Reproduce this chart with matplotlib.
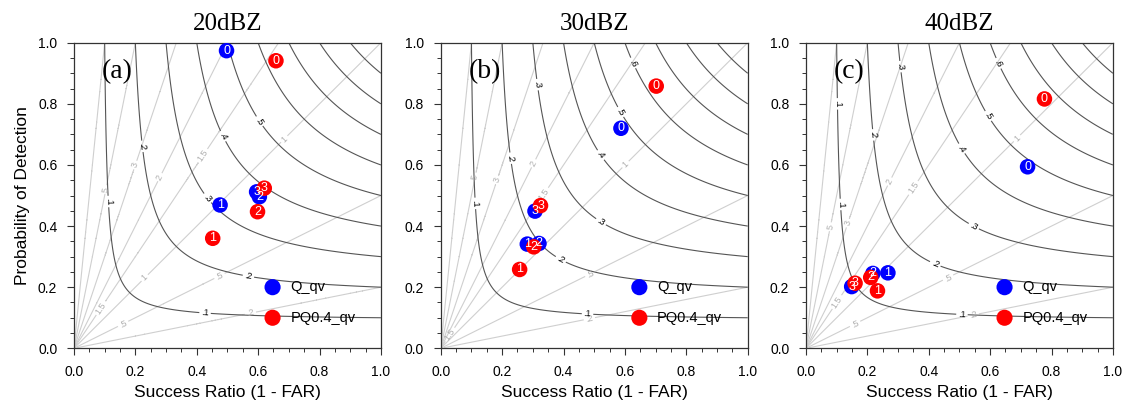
import numpy as np
import matplotlib.pyplot as plt
from matplotlib.ticker import MultipleLocator

SANS = ["Liberation Sans", "DejaVu Sans"]
SERIF = ["Liberation Serif", "DejaVu Serif"]

titles = ["20dBZ", "30dBZ", "40dBZ"]
tags = ["(a)", "(b)", "(c)"]
names = ["Q_qv", "PQ0.4_qv"]
colors = ["#0000ff", "#ff0000"]
ids = ["0", "1", "2", "3"]

# success ratio and POD per panel, point index = label
q_sr = [[0.497, 0.476, 0.604, 0.595], [0.587, 0.282, 0.320, 0.307], [0.722, 0.267, 0.218, 0.149]]
q_pod = [[0.974, 0.469, 0.496, 0.512], [0.720, 0.341, 0.343, 0.449], [0.594, 0.247, 0.245, 0.202]]
pq_sr = [[0.658, 0.452, 0.598, 0.620], [0.702, 0.257, 0.303, 0.325], [0.777, 0.233, 0.211, 0.160]]
pq_pod = [[0.941, 0.360, 0.447, 0.524], [0.858, 0.258, 0.332, 0.467], [0.816, 0.188, 0.232, 0.213]]

csi_levels = [0.1, 0.2, 0.3, 0.4, 0.5, 0.6, 0.7, 0.8, 0.9]
bias_levels = [0.2, 0.5, 1, 1.5, 2, 3, 5, 10]

# where the contour labels sit (layout only)
csi_label_pos = [
    [(0.106, 0.48), (0.427, 0.115), (0.215, 0.66), (0.568, 0.234), (0.427, 0.485),
     (0.481, 0.692), (0.60, 0.74)],
    [(0.107, 0.474), (0.478, 0.109), (0.227, 0.622), (0.39, 0.289), (0.309, 0.862),
     (0.522, 0.414), (0.522, 0.633), (0.587, 0.774), (0.625, 0.933)],
    [(0.10, 0.80), (0.10, 0.47), (0.508, 0.106), (0.214, 0.698), (0.42, 0.273),
     (0.301, 0.921), (0.546, 0.398), (0.508, 0.654), (0.59, 0.758), (0.628, 0.933)],
]
bias_label_pos = [
    [(0.101, 0.52), (0.199, 0.60), (0.28, 0.56), (0.42, 0.63), (0.68, 0.69),
     (0.475, 0.235), (0.574, 0.118), (0.09, 0.13), (0.231, 0.23), (0.16, 0.08)],
    [(0.112, 0.56), (0.183, 0.55), (0.303, 0.605), (0.604, 0.6), (0.489, 0.24),
     (0.483, 0.103), (0.03, 0.045), (0.34, 0.50)],
    [(0.078, 0.398), (0.138, 0.409), (0.274, 0.545), (0.35, 0.525), (0.688, 0.687),
     (0.464, 0.229), (0.546, 0.103), (0.10, 0.152), (0.16, 0.08)],
]

plt.rcParams['font.family'] = SANS

def fmt(v):
    s = f"{v:g}"
    return s[1:] if s.startswith("0.") else s

sr = np.linspace(0.002, 1, 500)
pod = np.linspace(0.002, 1, 500)
SR, POD = np.meshgrid(sr, pod)
CSI = 1.0 / (1.0 / SR + 1.0 / POD - 1.0)
BIAS = POD / SR

fig = plt.figure(figsize=(11.31, 4.08), dpi=100)
lefts = [0.0654, 0.3897, 0.7126]

for i in range(3):
    ax = fig.add_axes([lefts[i], 0.1463, 0.2714, 0.749])
    ax.set_xlim(0, 1)
    ax.set_ylim(0, 1)

    cb = ax.contour(SR, POD, BIAS, levels=bias_levels, colors="#cfcfcf", linewidths=0.8)
    ax.clabel(cb, fmt=fmt, fontsize=6.5, colors="#b0b0b0", inline=True, inline_spacing=2,
              manual=bias_label_pos[i])
    cc = ax.contour(SR, POD, CSI, levels=csi_levels, colors="#555555", linewidths=0.8)
    ax.clabel(cc, fmt=fmt, fontsize=6.5, colors="black", inline=True, inline_spacing=2,
              manual=csi_label_pos[i])

    for sx, sy, c in [(q_sr[i], q_pod[i], colors[0]), (pq_sr[i], pq_pod[i], colors[1])]:
        for k in range(len(ids)):
            ax.scatter(sx[k], sy[k], s=125, color=c, edgecolors="none", zorder=5)
            ax.text(sx[k], sy[k], ids[k], color="white", fontsize=9,
                    ha="center", va="center", zorder=6)

    # legend drawn inside the plot
    for j in range(2):
        ax.scatter(0.647, 0.2 - 0.1 * j, s=135, color=colors[j], edgecolors="none", zorder=5)
        ax.text(0.705, 0.2 - 0.1 * j, names[j], fontsize=10.5, ha="left", va="center", zorder=6)

    ax.text(0.09, 0.906, tags[i], family=SERIF, fontsize=20, ha="left", va="center", zorder=7)
    ax.set_title(titles[i], family=SERIF, fontsize=18, pad=9)

    ax.xaxis.set_major_locator(MultipleLocator(0.2))
    ax.yaxis.set_major_locator(MultipleLocator(0.2))
    ax.xaxis.set_minor_locator(MultipleLocator(0.05))
    ax.yaxis.set_minor_locator(MultipleLocator(0.05))
    ax.xaxis.set_major_formatter(lambda v, p: f"{v:.1f}")
    ax.yaxis.set_major_formatter(lambda v, p: f"{v:.1f}")
    ax.tick_params(which="major", length=5, width=0.8, pad=7, labelsize=10, color="#333333")
    ax.tick_params(which="minor", length=3, width=0.7, color="#333333")
    for sp in ax.spines.values():
        sp.set_color("#333333")
        sp.set_linewidth(0.9)
    ax.set_xlabel("Success Ratio (1 - FAR)", fontsize=12.5, labelpad=4)
    if i == 0:
        ax.set_ylabel("Probability of Detection", fontsize=12.5, labelpad=6)

fig.savefig("out.png", dpi=100)
